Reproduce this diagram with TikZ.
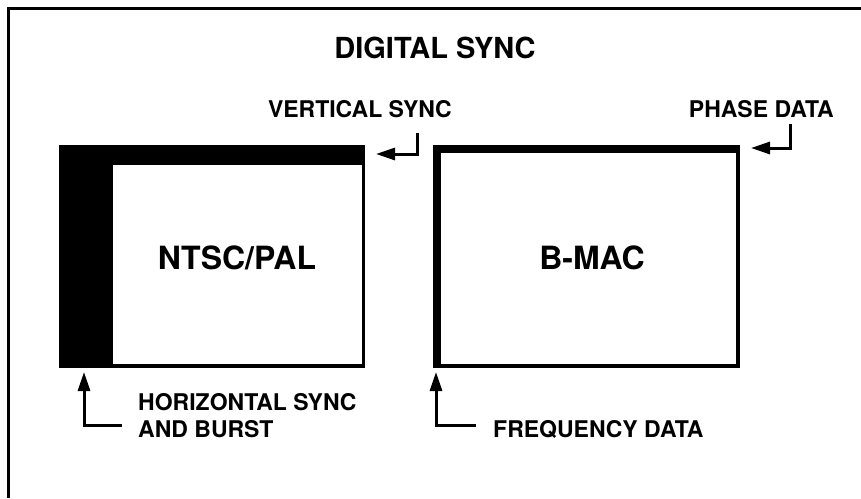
\documentclass[tikz,border=0pt]{standalone}
\usepackage{fontspec}
\setmainfont{TeX Gyre Heros}
\usetikzlibrary{arrows.meta}
\tikzset{
  lbl/.style={inner sep=0pt, font=\bfseries\fontsize{23}{27}\selectfont},
  big/.style={inner sep=0pt, font=\bfseries\fontsize{32}{38}\selectfont},
  ptr/.style={line width=3pt, -{Triangle[length=19pt,width=12pt]}},
  frameline/.style={line width=3pt},
}
\begin{document}
\begin{tikzpicture}[x=1pt,y=-1pt]
\useasboundingbox (0,0) rectangle (861,498);
% outer frame (top and left edges)
\draw[frameline] (8.5,498) -- (8.5,8.5) -- (861,8.5);
% title
\node[inner sep=0pt, font=\bfseries\fontsize{29}{34}\selectfont, anchor=base] (title) at (435,58) {DIGITAL SYNC};
% NTSC/PAL screen
\node[fill=black, inner sep=0pt, minimum width=306pt, minimum height=223pt, anchor=north west] (ntsc) at (59,145) {};
\node[fill=white, inner sep=0pt, minimum width=249pt, minimum height=199pt, anchor=north west] (ntscin) at (113,165) {};
\node[big] (ntsclbl) at (237,258) {NTSC/PAL};
% B-MAC screen
\node[fill=black, inner sep=0pt, minimum width=307pt, minimum height=223pt, anchor=north west] (bmac) at (433,145) {};
\node[fill=white, inner sep=0pt, minimum width=295pt, minimum height=211pt, anchor=north west] (bmacin) at (441,153) {};
\node[big] (bmaclbl) at (592,258) {B-MAC};
% labels
\node[lbl, anchor=base east] (vsync) at (452,117) {VERTICAL SYNC};
\node[lbl, anchor=base east] (phase) at (834,117) {PHASE DATA};
\node[lbl, anchor=base west, align=left] (hsync) at (138,437) {HORIZONTAL SYNC\\AND BURST};
\node[lbl, anchor=base west] (freq) at (493,437) {FREQUENCY DATA};
% arrow coordinates
\coordinate (vsA) at (417,133);
\coordinate (vsT) at (376,154);
\coordinate (phA) at (790,124);
\coordinate (phT) at (751,148);
\coordinate (hsA) at (122,425);
\coordinate (hsT) at (84,372);
\coordinate (frA) at (476,425);
\coordinate (frT) at (436,372);
% arrows
\draw[ptr] (vsA) |- (vsT);
\draw[ptr] (phA) |- (phT);
\draw[ptr] (hsA) -| (hsT);
\draw[ptr] (frA) -| (frT);
\end{tikzpicture}
\end{document}
